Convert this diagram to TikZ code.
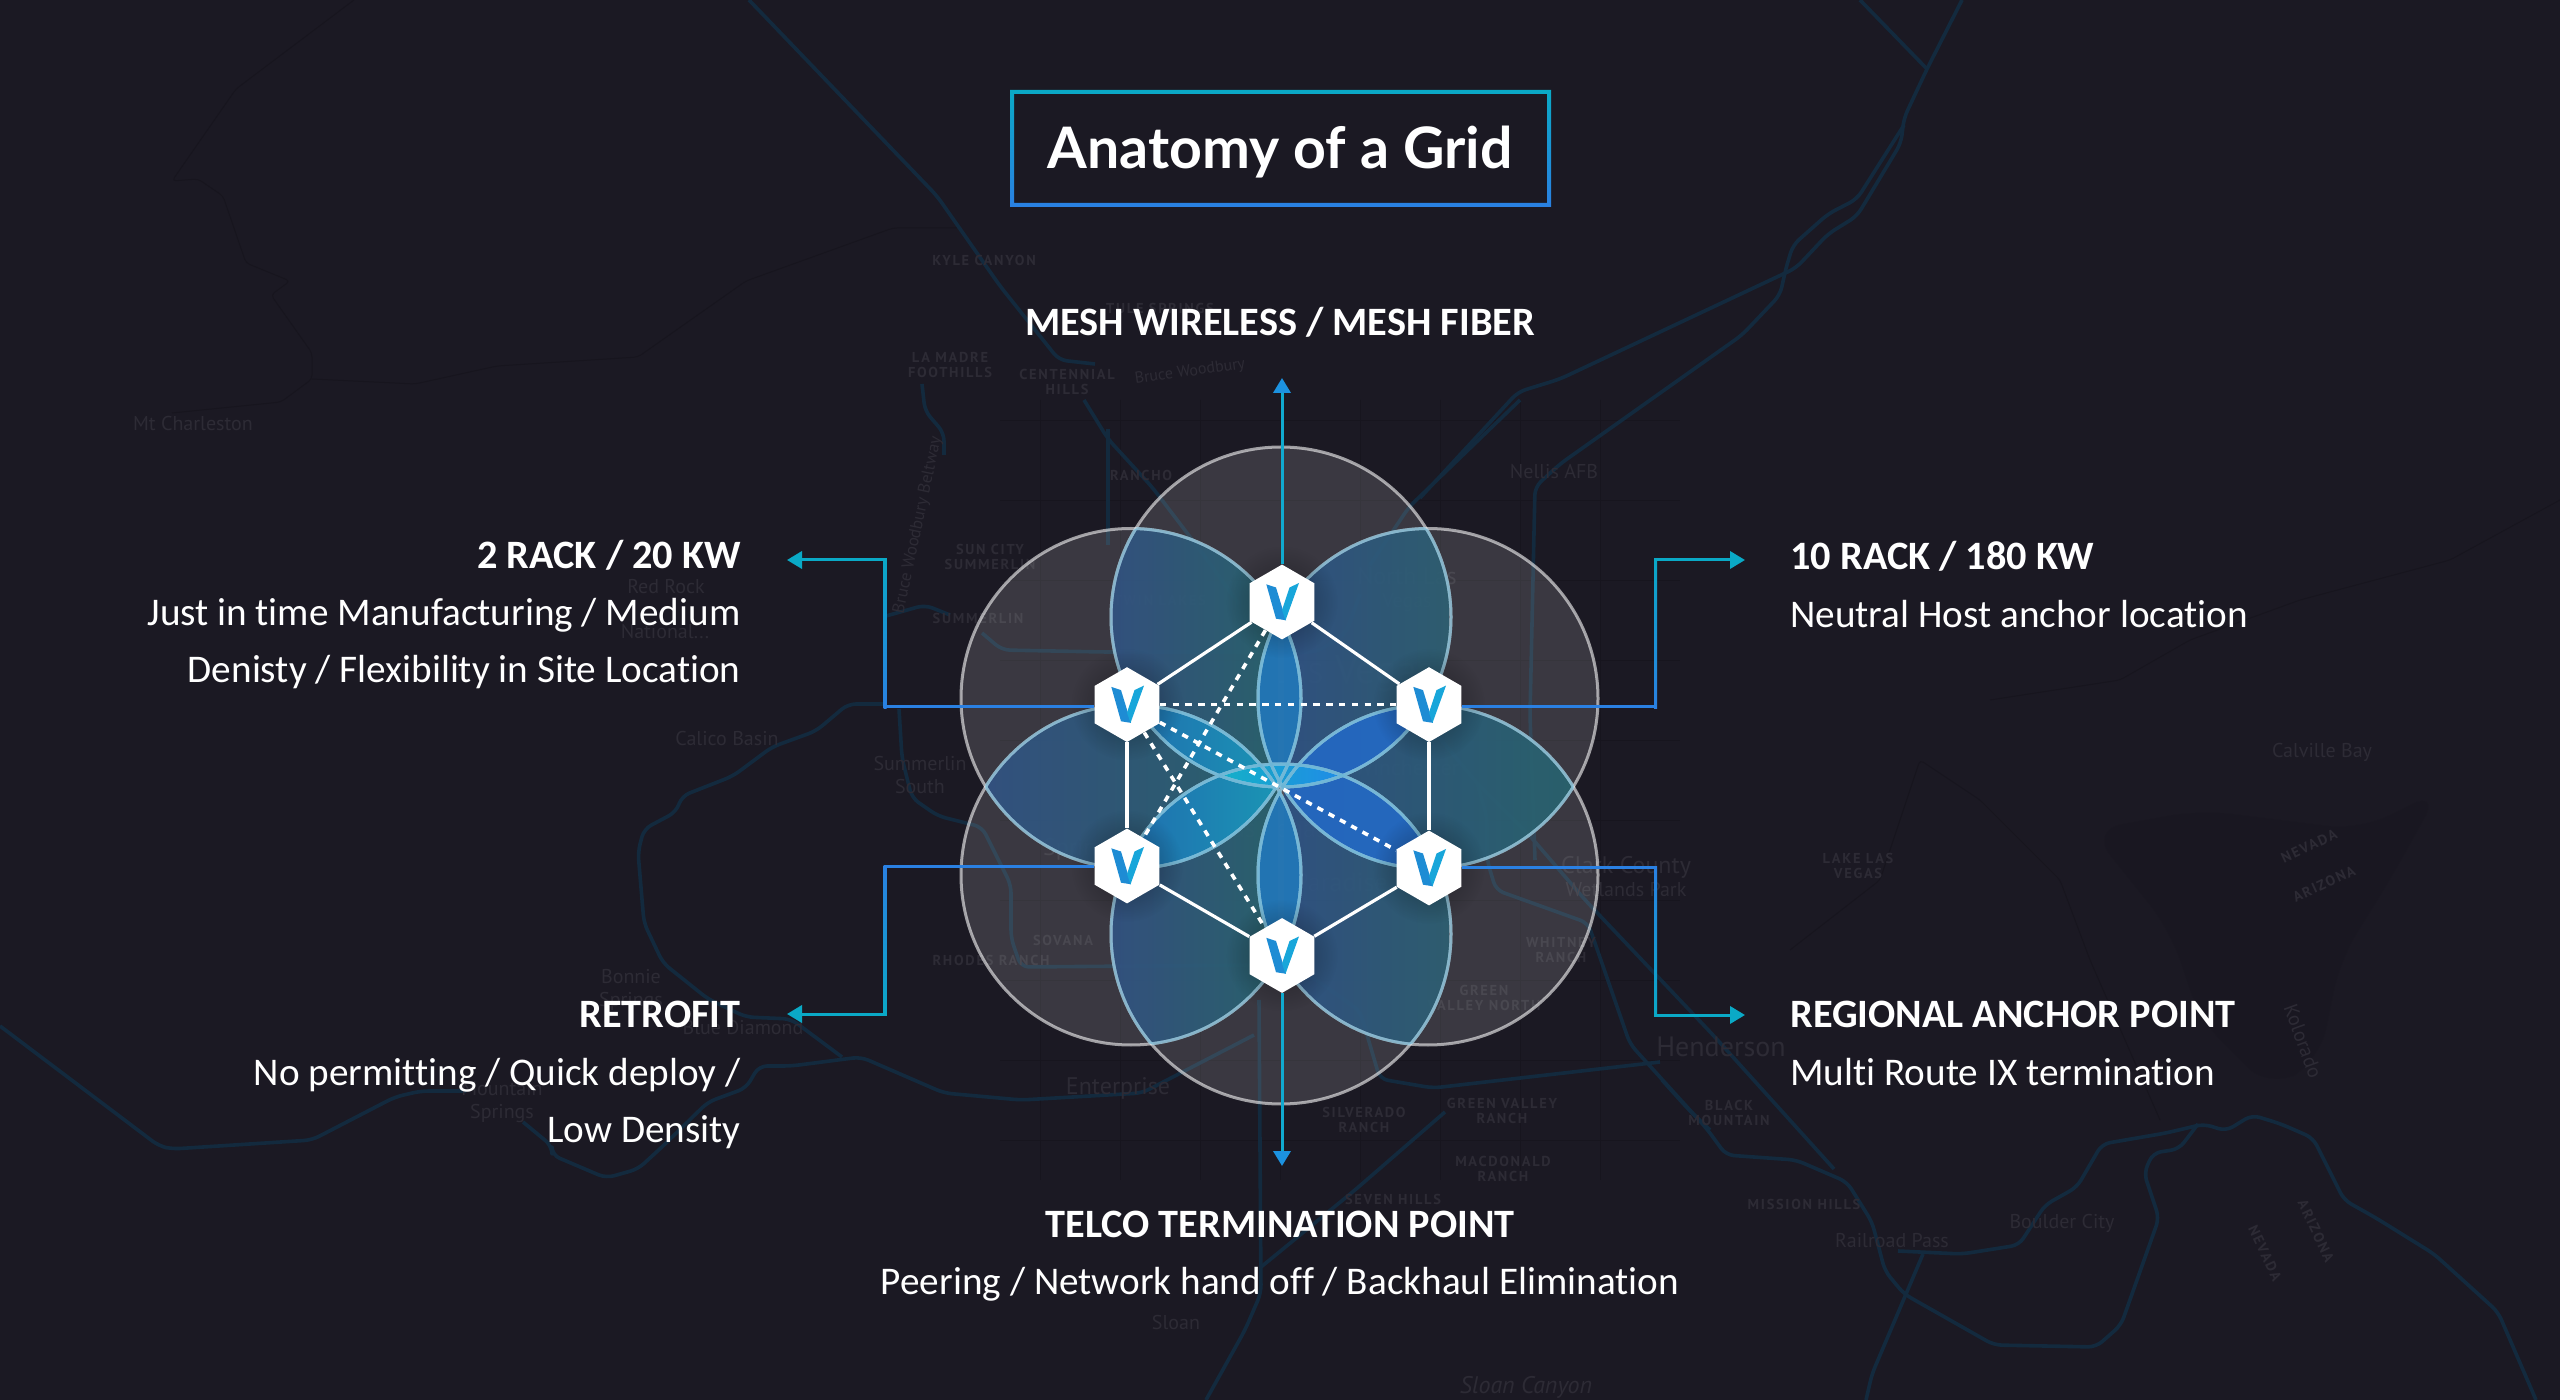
\documentclass[tikz,border=0pt]{standalone}
\usepackage{fontspec}
\usetikzlibrary{arrows.meta,shapes.geometric,fadings}
\setmainfont[Ligatures=NoCommon]{Carlito}
\newfontfamily\titlefont{Lato}
\newfontfamily\mapfont{PT Sans}
\newfontfamily\mapcapsfont[LetterSpace=12]{PT Sans}
\definecolor{pagebg}{HTML}{1B1923}
\definecolor{roadblue}{HTML}{132A3E}
\definecolor{mapgrey}{HTML}{2D2B35}
\definecolor{mapdark}{HTML}{17151E}
\definecolor{linkteal}{HTML}{0AA9C6}
\definecolor{linkblue}{HTML}{2A80E2}
\definecolor{stemcyan}{HTML}{10AACF}
\definecolor{tipblue}{HTML}{1C92E0}
\definecolor{ringtint}{HTML}{6CB6D6}
\definecolor{logoleft}{HTML}{1E8CD4}
\definecolor{logoright}{HTML}{18A6DA}
% overlap colours
\definecolor{lensdeep}{HTML}{305080}
\definecolor{lensteal}{HTML}{26616C}
\definecolor{lensmid}{HTML}{2C5082}
\definecolor{lensside}{HTML}{2B5D70}
\definecolor{petalmid}{HTML}{2276B6}
\definecolor{petalleft}{HTML}{2072B4}
\definecolor{petalteal}{HTML}{1A98B8}
\definecolor{petalright}{HTML}{2468C0}
\definecolor{corecyan}{HTML}{14B2CA}
\definecolor{coreblue}{HTML}{2090EA}
\tikzfading[name=hexglow, inner color=transparent!35, outer color=transparent!100]
\tikzset{
  road/.style={draw=roadblue, line width=1.8pt, rounded corners=4pt, line join=round},
  thinroad/.style={draw=mapdark, line width=.5pt, rounded corners=2pt},
  maplabel/.style={text=mapgrey, inner sep=0pt, align=center, font=\mapfont\fontsize{10}{11.5}\selectfont},
  mapcaps/.style={text=mapgrey, inner sep=0pt, align=center, font=\mapcapsfont\bfseries\fontsize{7.2}{7.6}\selectfont},
  headtext/.style={text=white, inner sep=0pt, font=\bfseries\fontsize{20.15}{24}\selectfont},
  bodytext/.style={text=white, inner sep=0pt, font=\fontsize{19.6}{24}\selectfont},
  hexnode/.style={regular polygon, regular polygon sides=6, shape border rotate=30, fill=white, inner sep=0pt, minimum size=37.4pt},
  meshline/.style={draw=white, line width=1.6pt},
  dotline/.style={draw=white, line width=1.8pt, dash pattern=on 3.2pt off 3.2pt},
  linkline/.style={line width=1.5pt},
  linktip/.style={-{Triangle[length=7.5pt, width=8.6pt, color=#1]}},
}
% one overlap region: clip to the circles, then shade across x0..x1
\newcommand{\lensfill}[6]{%
  \begin{scope}
    \clip (c#1) circle (170);
    \clip (c#2) circle (170);
    \shade[left color=#5, right color=#6, opacity=.92] (#3,430) rectangle (#4,1120);
  \end{scope}}
\newcommand{\petalfill}[7]{%
  \begin{scope}
    \clip (c#1) circle (170);
    \clip (c#2) circle (170);
    \clip (c#3) circle (170);
    \shade[left color=#6, right color=#7, opacity=.95] (#4,430) rectangle (#5,1120);
  \end{scope}}
\begin{document}
\begin{tikzpicture}[x=.5pt, y=-.5pt]
  \useasboundingbox (0,0) rectangle (2560,1400);
  \fill[pagebg] (0,0) rectangle (2560,1400);

  % Map: lake, street grid, county lines
  \fill[mapdark, opacity=.3, rounded corners=16pt] (2090,830) -- (2200,810) -- (2360,830) -- (2440,790) -- (2390,880) -- (2340,960) -- (2320,1060) -- (2270,1090) -- (2200,1020) -- (2170,930) -- cycle;
  \foreach \gx in {1040,1120,...,1640} {\draw[mapdark, line width=.3pt] (\gx,400) -- (\gx,1180);}
  \foreach \gy in {420,500,...,1180} {\draw[mapdark, line width=.3pt] (1000,\gy) -- (1680,\gy);}
  \draw[thinroad] (354,0) -- (236,89) -- (172,181) -- (198,179) -- (223,196) -- (246,263) -- (290,281) -- (271,295) -- (312,353) -- (312,379) -- (281,402) -- (172,413);
  \draw[thinroad] (312,379) -- (415,384) -- (497,366) -- (638,357) -- (746,281) -- (893,228) -- (957,228);
  \draw[thinroad] (2560,500) -- (2450,560) -- (2300,600) -- (2190,640) -- (2120,680) -- (1990,700);
  \draw[thinroad] (1790,950) -- (1880,880) -- (1900,820) -- (1920,760) -- (1980,800) -- (2060,880) -- (2090,960) -- (2160,1120);

  % Map: highways
  \draw[road] (749,0) -- (937,196) -- (1000,286) -- (1059,360) -- (1095,364);
  \draw[road] (922,384) -- (925,411) -- (944,433) -- (944,455);
  \draw[road] (886,616) -- (925,605) -- (950,615);
  \draw[road] (1084,400) -- (1108,439) -- (1152,487) -- (1200,550) -- (1239,604);
  \draw[road] (1108,429) -- (1108,545);
  \draw[road] (982,633) -- (1002,650) -- (1104,652) -- (1317,652) -- (1346,633) -- (1360,594);
  \draw[road] (1860,0) -- (1927,69);
  \draw[road] (1962,0) -- (1927,69) -- (1904,118) -- (1901,143) -- (1857,216) -- (1828,234) -- (1796,268) -- (1560,379) -- (1518,392) -- (1420,498);
  \draw[road] (1904,125) -- (1857,199) -- (1828,214) -- (1793,245) -- (1786,268) -- (1780,295) -- (1742,335) -- (1560,464) -- (1535,487) -- (1530,715) -- (1535,860);
  \draw[road] (1520,400) -- (1409,507) -- (1370,565);
  \draw[road] (1433,730) -- (1477,783) -- (1530,836) -- (1586,901) -- (1713,1035) -- (1834,1169);
  \draw[road] (1477,783) -- (1487,817) -- (1487,860) -- (1496,890) -- (1588,923) -- (1630,1044) -- (1707,1129) -- (1726,1155) -- (1796,1160) -- (1847,1182) -- (1872,1222) -- (1885,1271) -- (1904,1294) -- (1994,1345) -- (2096,1347) -- (2121,1325) -- (2159,1218) -- (2144,1173) -- (2153,1153) -- (2179,1149) -- (2198,1124);
  \draw[road] (1898,1251) -- (1962,1254) -- (2019,1245) -- (2045,1205) -- (2077,1187) -- (2102,1144) -- (2166,1133) -- (2204,1124) -- (2226,1131) -- (2252,1115) -- (2281,1124) -- (2313,1138) -- (2344,1200) -- (2376,1218) -- (2434,1254) -- (2498,1312) -- (2536,1400);
  \draw[road] (1923,1254) -- (1872,1374) -- (1866,1400);
  \draw[road] (886,704) -- (848,704) -- (816,731) -- (772,747) -- (733,776) -- (682,796) -- (676,812) -- (644,829) -- (638,852) -- (644,923) -- (663,963) -- (708,999) -- (746,1017) -- (791,1019) -- (842,1057);
  \draw[road] (0,1026) -- (159,1146) -- (172,1149) -- (312,1140) -- (395,1097) -- (421,1091) -- (466,1091);
  \draw[road] (523,1122) -- (552,1146) -- (552,1155) -- (606,1178) -- (638,1169) -- (663,1146) -- (708,1102) -- (746,1088) -- (759,1066) -- (791,1066) -- (861,1057) -- (944,1093) -- (1021,1100) -- (1142,1093) -- (1254,1035);
  \draw[road] (899,709) -- (902,758) -- (912,798) -- (938,816) -- (982,827) -- (1011,885) -- (1011,938) -- (1021,967) -- (1259,965) -- (1312,977) -- (1360,1011) -- (1380,1079) -- (1433,1088) -- (1660,1062);
  \draw[road] (1259,1000) -- (1261,1293) -- (1245,1330) -- (1206,1400);
  \draw[road] (1445,1112) -- (1355,1190) -- (1261,1267);
  \draw[road] (1662,1080) -- (1689,1110) -- (1710,1130);

  % Map: place names
  \node[maplabel] (mapCharleston) at (193,424) {Mt Charleston};
  \node[maplabel] (mapRedRock) at (666,587) {Red Rock};
  \node[maplabel] (mapNational) at (665,632) {National...};
  \node[maplabel] (mapCalico) at (727,739) {Calico Basin};
  \node[maplabel] (mapSummerlinS) at (920,775) {Summerlin\\South};
  \node[maplabel] (mapBonnie) at (631,990) {Bonnie\\Springs};
  \node[maplabel] (mapDiamond) at (743,1028) {Blue Diamond};
  \node[maplabel] (mapMountain) at (502,1102) {Mountain\\Springs};
  \node[maplabel] (mapEnterprise) at (1118,1088) {\fontsize{12}{14}\selectfont Enterprise};
  \node[maplabel] (mapSloan) at (1176,1322) {Sloan};
  \node[maplabel] (mapSloanC) at (1526,1387) {\itshape\fontsize{12}{14}\selectfont Sloan Canyon};
  \node[maplabel] (mapNellis) at (1554,472) {Nellis AFB};
  \node[maplabel] (mapNorthLV) at (1407,590) {\fontsize{12}{14}\selectfont North Las\\Vegas};
  \node[maplabel] (mapLV) at (1351,674) {\fontsize{20}{22}\selectfont Las Vegas};
  \node[maplabel] (mapSunrise) at (1273,831) {\fontsize{13}{15}\selectfont Las Vegas};
  \node[maplabel] (mapSpring) at (1110,850) {\fontsize{12}{14}\selectfont Spring Valley};
  \node[maplabel] (mapWinchester) at (1407,768) {\fontsize{11}{13}\selectfont Winchester};
  \node[maplabel] (mapParadise) at (1341,882) {\fontsize{13}{15}\selectfont Paradise};
  \node[maplabel] (mapWetlands) at (1626,877) {\fontsize{12}{14}\selectfont Clark County\\Wetlands Park};
  \node[maplabel] (mapHenderson) at (1721,1047) {\fontsize{14}{16}\selectfont Henderson};
  \node[maplabel] (mapRailroad) at (1892,1241) {Railroad Pass};
  \node[maplabel] (mapBoulder) at (2062,1223) {Boulder City};
  \node[maplabel] (mapCalville) at (2322,752) {Calville Bay};
  \node[maplabel, rotate=78] (mapBeltway) at (918,525) {\fontsize{8.5}{10}\selectfont Bruce Woodbury Beltway};
  \node[maplabel, rotate=8] (mapBruce) at (1190,372) {\fontsize{8}{10}\selectfont Bruce Woodbury};
  \node[maplabel, rotate=-70] (mapKolorado) at (2303,1041) {Kolorado};
  \node[mapcaps] (mapKyle) at (984,260) {KYLE CANYON};
  \node[mapcaps] (mapMadre) at (950,365) {LA MADRE\\FOOTHILLS};
  \node[mapcaps] (mapCentennial) at (1067,382) {CENTENNIAL\\HILLS};
  \node[mapcaps] (mapTule) at (1160,308) {TULE SPRINGS};
  \node[mapcaps] (mapRancho) at (1141,475) {RANCHO};
  \node[mapcaps] (mapSunCity) at (990,557) {SUN CITY\\SUMMERLIN};
  \node[mapcaps] (mapSummerlin) at (978,618) {SUMMERLIN};
  \node[mapcaps] (mapTwin) at (1160,600) {TWIN LAKES};
  \node[mapcaps] (mapSovana) at (1063,940) {SOVANA};
  \node[mapcaps] (mapRhodes) at (991,960) {RHODES RANCH};
  \node[mapcaps] (mapWhitney) at (1561,950) {WHITNEY\\RANCH};
  \node[mapcaps] (mapGreenN) at (1484,998) {GREEN\\VALLEY NORTH};
  \node[mapcaps] (mapSilverado) at (1364,1120) {SILVERADO\\RANCH};
  \node[mapcaps] (mapGreenR) at (1502,1111) {GREEN VALLEY\\RANCH};
  \node[mapcaps] (mapMacdonald) at (1503,1169) {MACDONALD\\RANCH};
  \node[mapcaps] (mapSeven) at (1393,1199) {SEVEN HILLS};
  \node[mapcaps] (mapLake) at (1858,866) {LAKE LAS\\VEGAS};
  \node[mapcaps] (mapBlack) at (1729,1113) {BLACK\\MOUNTAIN};
  \node[mapcaps] (mapMission) at (1804,1204) {MISSION HILLS};
  \node[mapcaps, rotate=25] (mapNevadaA) at (2309,846) {NEVADA};
  \node[mapcaps, rotate=25] (mapArizonaA) at (2324,884) {ARIZONA};
  \node[mapcaps, rotate=-65] (mapNevadaB) at (2265,1253) {NEVADA};
  \node[mapcaps, rotate=-65] (mapArizonaB) at (2316,1231) {ARIZONA};

  % Circle centres
  \coordinate (cT) at (1281,617);
  \coordinate (cB) at (1281,934);
  \coordinate (cLU) at (1131,698.5);
  \coordinate (cLL) at (1131,875);
  \coordinate (cRU) at (1428,698.5);
  \coordinate (cRL) at (1428,875);

  % Circles and their overlaps
  \foreach \n in {T,B,LU,LL,RU,RL} {\fill[white, opacity=.136] (c\n) circle (170);}
  \lensfill{T}{LU}{1109}{1278}{lensdeep}{lensteal}
  \lensfill{T}{RU}{1284}{1449}{lensmid}{lensside}
  \lensfill{LU}{LL}{987}{1275}{lensdeep}{lensteal}
  \lensfill{RU}{RL}{1284}{1572}{lensmid}{lensteal}
  \lensfill{B}{LL}{1109}{1278}{lensdeep}{lensteal}
  \lensfill{B}{RL}{1284}{1449}{lensmid}{lensside}
  \petalfill{T}{LU}{RU}{1230}{1330}{petalmid}{petalmid}
  \petalfill{B}{LL}{RL}{1230}{1330}{petalmid}{petalmid}
  \petalfill{T}{LU}{LL}{1130}{1280}{petalleft}{petalteal}
  \petalfill{B}{LU}{LL}{1130}{1280}{petalleft}{petalteal}
  \petalfill{T}{RU}{RL}{1280}{1430}{petalright}{petalright}
  \petalfill{B}{RU}{RL}{1280}{1430}{petalright}{petalright}
  \lensfill{T}{B}{1222}{1340}{corecyan}{coreblue}
  \foreach \n in {T,B,LU,LL,RU,RL} {\draw[white, opacity=.58, line width=1.5pt] (c\n) circle (170);}
  \foreach \a in {T,B,LU,LL,RU,RL} {
    \foreach \b in {T,B,LU,LL,RU,RL} {
      \ifx\a\b\else
        \begin{scope}
          \clip (c\a) circle (170);
          \draw[ringtint, opacity=.55, line width=1.5pt] (c\b) circle (170);
        \end{scope}
      \fi
    }
  }

  % Hexagons
  \foreach \hx/\hy in {1282/602, 1127/704.6, 1429/704.6, 1127/866, 1429/868, 1282/955.5} {
    \fill[black, opacity=.6, path fading=hexglow] (\hx,\hy) circle (56);
  }
  \node[hexnode] (hexT) at (1282,602) {};
  \node[hexnode] (hexLU) at (1127,704.6) {};
  \node[hexnode] (hexRU) at (1429,704.6) {};
  \node[hexnode] (hexLL) at (1127,866) {};
  \node[hexnode] (hexRL) at (1429,868) {};
  \node[hexnode] (hexB) at (1282,955.5) {};

  % Logo on every hexagon
  \foreach \n in {hexT,hexLU,hexRU,hexLL,hexRL,hexB} {
    \begin{scope}[shift={(\n)}]
      \fill[logoleft] (-15.7,-17.7) -- (-6,-14.5) -- (4,18.3) -- (-6,16.7) -- cycle;
      \fill[logoright] (17,-19) -- (7.5,-14.5) -- (0,8) -- (3.5,18.3) -- cycle;
    \end{scope}
  }

  % Mesh
  \draw[meshline] (hexT) -- (hexLU);
  \draw[meshline] (hexT) -- (hexRU);
  \draw[meshline] (hexLU) -- (hexLL);
  \draw[meshline] (hexRU) -- (hexRL);
  \draw[meshline] (hexLL) -- (hexB);
  \draw[meshline] (hexRL) -- (hexB);
  \draw[dotline] (hexLU) -- (hexRU);
  \draw[dotline] (hexT) -- (hexLL);
  \draw[dotline] (hexLU) -- (hexB);
  \draw[dotline] (hexLU) -- (hexRL);

  % Title
  \node[text=white, inner sep=0pt, font=\titlefont\bfseries\fontsize{28.6}{32}\selectfont] (titleText) at (1280,152) {Anatomy of a Grid};
  \shade[top color=linkteal, bottom color=linkblue, even odd rule] (1010,90) rectangle (1551,207) (1014,94) rectangle (1547,203);

  % Top and bottom
  \node[headtext, anchor=base] (meshHead) at (1280,336) {MESH WIRELESS / MESH FIBER};
  \coordinate (tipT) at (1282,378);
  \draw[linkline, stemcyan, linktip=tipblue] (hexT) -- (tipT);
  \coordinate (tipB) at (1282,1166);
  \draw[linkline, stemcyan, linktip=tipblue] (hexB) -- (tipB);
  \node[headtext, anchor=base] (telcoHead) at (1280,1237) {TELCO TERMINATION POINT};
  \node[bodytext, anchor=base] (telcoBody) at (1280,1294) {Peering / Network hand off / Backhaul Elimination};

  % Upper left
  \node[headtext, anchor=base east] (rackHead) at (741,569) {2 RACK / 20 KW};
  \node[bodytext, anchor=base east] (rackBodyA) at (741,626) {Just in time Manufacturing / Medium};
  \node[bodytext, anchor=base east] (rackBodyB) at (741,683) {Denisty / Flexibility in Site Location};
  \coordinate (rowLU) at (885,707);
  \coordinate (bendLU) at (885,560);
  \coordinate (tipLU) at (787,560);
  \draw[linkline, linkblue] (hexLU.west |- rowLU) -- (rowLU);
  \shade[top color=linkteal, bottom color=linkblue] ([xshift=-.75pt,yshift=.75pt]bendLU) rectangle ([xshift=.75pt,yshift=-.75pt]rowLU);
  \draw[linkline, linkteal, linktip=linkteal] ([xshift=.75pt]bendLU) -- (tipLU);

  % Lower left
  \node[headtext, anchor=base east] (retroHead) at (741,1027) {RETROFIT};
  \node[bodytext, anchor=base east] (retroBodyA) at (741,1085) {No permitting / Quick deploy /};
  \node[bodytext, anchor=base east] (retroBodyB) at (741,1142) {Low Density};
  \coordinate (rowLL) at (885,867);
  \coordinate (bendLL) at (885,1014);
  \coordinate (tipLL) at (787,1014);
  \draw[linkline, linkblue] (hexLL.west |- rowLL) -- (rowLL);
  \shade[top color=linkblue, bottom color=linkteal] ([xshift=-.75pt,yshift=.75pt]rowLL) rectangle ([xshift=.75pt,yshift=-.75pt]bendLL);
  \draw[linkline, linkteal, linktip=linkteal] ([xshift=.75pt]bendLL) -- (tipLL);

  % Upper right
  \node[headtext, anchor=base west] (tenHead) at (1790,570) {10 RACK / 180 KW};
  \node[bodytext, anchor=base west] (tenBody) at (1790,628) {Neutral Host anchor location};
  \coordinate (rowRU) at (1655.5,707);
  \coordinate (bendRU) at (1655.5,560);
  \coordinate (tipRU) at (1745,560);
  \draw[linkline, linkblue] (hexRU.east |- rowRU) -- (rowRU);
  \shade[top color=linkteal, bottom color=linkblue] ([xshift=-.75pt,yshift=.75pt]bendRU) rectangle ([xshift=.75pt,yshift=-.75pt]rowRU);
  \draw[linkline, linkteal, linktip=linkteal] ([xshift=-.75pt]bendRU) -- (tipRU);

  % Lower right
  \node[headtext, anchor=base west] (regionHead) at (1790,1027) {REGIONAL ANCHOR POINT};
  \node[bodytext, anchor=base west] (regionBody) at (1790,1085) {Multi Route IX termination};
  \coordinate (rowRL) at (1655.5,868);
  \coordinate (bendRL) at (1655.5,1015);
  \coordinate (tipRL) at (1745,1015);
  \draw[linkline, linkblue] (hexRL.east |- rowRL) -- (rowRL);
  \shade[top color=linkblue, bottom color=linkteal] ([xshift=-.75pt,yshift=.75pt]rowRL) rectangle ([xshift=.75pt,yshift=-.75pt]bendRL);
  \draw[linkline, linkteal, linktip=linkteal] ([xshift=-.75pt]bendRL) -- (tipRL);
\end{tikzpicture}
\end{document}
